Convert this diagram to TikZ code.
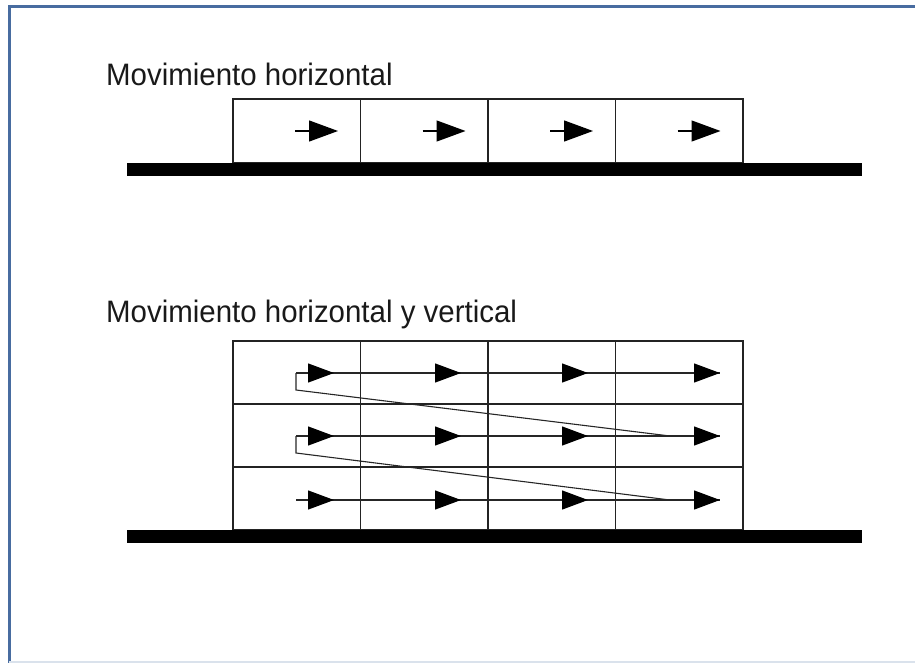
\documentclass[tikz,border=0pt]{standalone}
\usepackage{fontspec}
\setmainfont{Liberation Sans}
\usetikzlibrary{arrows.meta}
\definecolor{frameblue}{RGB}{72,108,160}
\definecolor{gridgray}{RGB}{35,35,35}
\def\drawground{\draw[line width=13pt]}
\def\cellnode{\node[cell]}
\def\drawmove{\draw[move]}
\def\drawslide{\draw[slide]}

\begin{document}
\begin{tikzpicture}[x=1pt,y=-1pt,
  cell/.style={draw=gridgray,line width=1.6pt,minimum width=127.5pt,minimum height=63pt,inner sep=0pt},
  heading/.style={anchor=base west,inner sep=0pt,text=black!90,font=\fontsize{31}{36}\selectfont},
  move/.style={line width=1.3pt,-{Triangle[length=29pt,width=21pt]}},
  slide/.style={line width=1.3pt,-{Triangle[length=26pt,width=19pt]}},
  link/.style={line width=1.1pt,black!85}]
\useasboundingbox (0,0) rectangle (915,663);
\draw[frameblue,line width=3pt] (915,6.3) -- (9,6.3) -- (9,663);
\draw[frameblue!20,line width=1.5pt] (9,662) -- (915,662);

\node[heading] (h) at (106,86) {\scalebox{0.95}[1]{Movimiento horizontal}};
\foreach \i in {1,...,4} {
  \cellnode[minimum height=64pt] (t\i) at (233+127.5*\i-63.75,131) {};
  \coordinate (ts\i) at (233+127.5*\i-65.5,131);
  \coordinate (te\i) at (233+127.5*\i-22.5,131);
  \drawmove (ts\i) -- (te\i);
}
\drawground (127,169.5) -- (862,169.5);

\node[heading] (hv) at (106,322) {\scalebox{0.95}[1]{Movimiento horizontal y vertical}};
\foreach \r/\c in {1/372.5,2/435.5,3/498.5}
  \foreach \i in {1,...,4}
    \cellnode (g\r\i) at (233+127.5*\i-63.75,\c) {};
\foreach \r/\y in {1/373,2/436,3/500} {
  \coordinate (s\r) at (296,\y);
  \coordinate (e\r) at (720,\y);
  \draw[link] (s\r) -- (e\r);
  \foreach \i/\x in {1/334,2/461,3/588,4/720} {
    \coordinate (a\r\i) at (\x-26,\y);
    \coordinate (b\r\i) at (\x,\y);
    \drawslide (a\r\i) -- (b\r\i);
  }
}
\coordinate (k1) at (296,390);
\coordinate (m1) at (670,436);
\coordinate (k2) at (296,453);
\coordinate (m2) at (670,500);
\draw[link] (s1) -- (k1) -- (m1);
\draw[link] (s2) -- (k2) -- (m2);
\drawground (127,536.5) -- (862,536.5);
\end{tikzpicture}
\end{document}
